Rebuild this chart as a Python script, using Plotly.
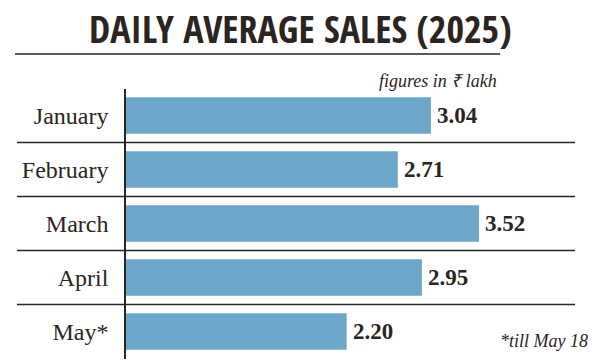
import plotly.graph_objects as go

months = ["January", "February", "March", "April", "May*"]
sales = [3.04, 2.71, 3.52, 2.95, 2.20]
value_labels = ["3.04", "2.71", "3.52", "2.95", "2.20"]

title_text = "DAILY AVERAGE SALES (2025)"
unit_note = "figures in ₹ lakh"
foot_note = "*till May 18"

# the page body adds an 8px margin, so the figure is drawn 8px smaller and offset
OFF = 8
W, H = 600 - OFF, 363 - OFF
BAR = "#6ca7c9"
INK = "#2b2522"
SERIF = "Liberation Serif, Times New Roman, serif"


def px(x):
    return (x - OFF) / W


def py(y):
    return 1 - (y - OFF) / H


fig = go.Figure()
fig.add_trace(go.Bar(
    x=sales, y=months, orientation="h",
    marker=dict(color=BAR, line=dict(width=0)),
    width=0.68, hoverinfo="skip",
))

for m, v, t in zip(months, sales, value_labels):
    fig.add_annotation(x=v, y=m, xref="x", yref="y", text=t, showarrow=False,
                       xanchor="left", yanchor="middle", xshift=4, yshift=0,
                       font=dict(family=SERIF, size=23, color=INK, weight="bold"))

for i in range(len(months) - 1):
    fig.add_shape(type="line", xref="paper", yref="y",
                  x0=px(17), x1=px(575), y0=i + 0.5, y1=i + 0.5,
                  line=dict(color=INK, width=1.5), layer="above")

fig.add_shape(type="line", xref="paper", yref="paper",
              x0=px(15), x1=px(500), y0=py(54), y1=py(54),
              line=dict(color=INK, width=1.5))

fig.add_annotation(x=px(300), y=py(28), xref="paper", yref="paper",
                   text=title_text, showarrow=False, xanchor="center", yanchor="middle",
                   font=dict(family="Open Sans Condensed, Roboto Condensed, sans-serif",
                             size=38, color=INK, weight="bold"))
fig.add_annotation(x=px(499), y=py(81), xref="paper", yref="paper",
                   text=f"<i>{unit_note}</i>", showarrow=False, xanchor="right", yanchor="middle",
                   font=dict(family=SERIF, size=18, color=INK))
fig.add_annotation(x=px(590), y=py(341), xref="paper", yref="paper",
                   text=f"<i>{foot_note}</i>", showarrow=False, xanchor="right", yanchor="middle",
                   font=dict(family=SERIF, size=18, color=INK))

axis_x = 126
ppu = 100.3
fig.update_layout(
    width=W, height=H, margin=dict(l=0, r=0, t=0, b=0),
    paper_bgcolor="white", plot_bgcolor="white", showlegend=False,
    xaxis=dict(domain=[px(axis_x), 1], range=[0, (600 - axis_x) / ppu], visible=False, fixedrange=True),
    yaxis=dict(domain=[py(358.5), py(88.5)], range=[4.5, -0.5], type="category",
               showgrid=False, zeroline=False, showline=True, linecolor=INK, linewidth=1.5,
               ticks="", ticklabelstandoff=11,
               tickfont=dict(family=SERIF, size=24, color=INK)),
)

fig.write_html("out.html")
